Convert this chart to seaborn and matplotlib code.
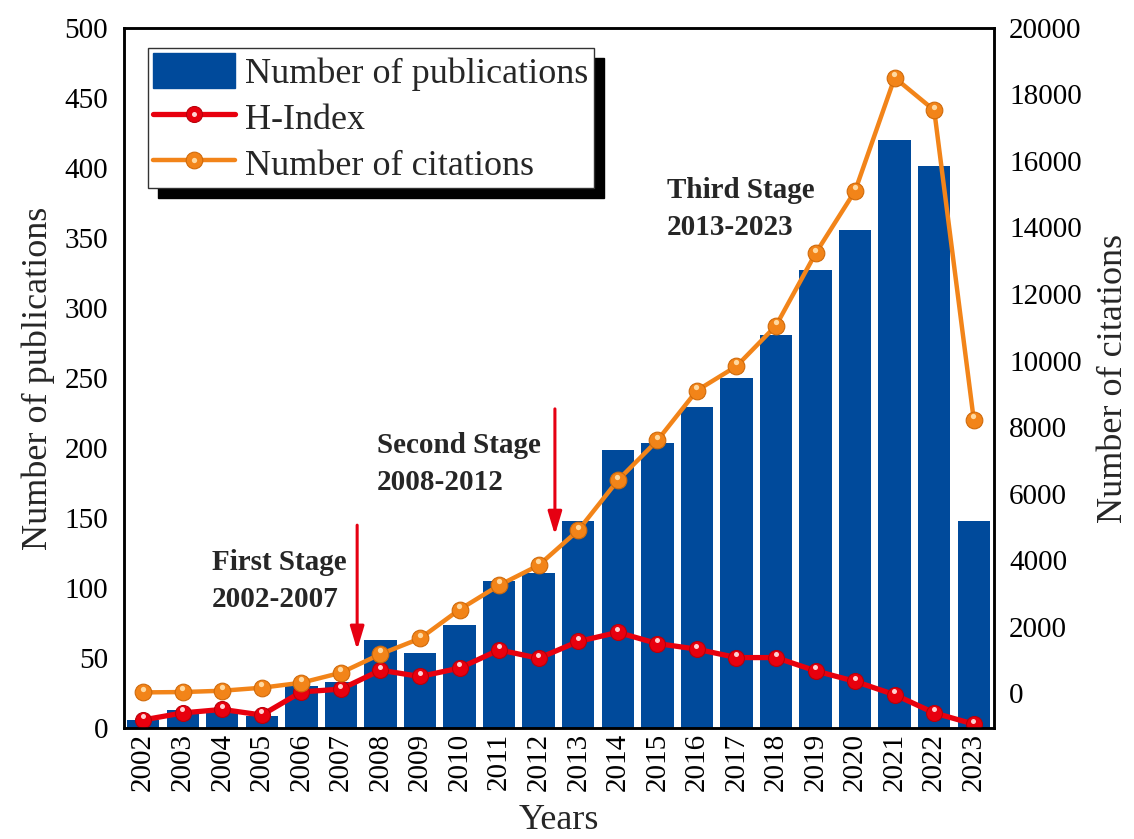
import numpy as np
import pandas as pd
import matplotlib
matplotlib.use('Agg')
import matplotlib.pyplot as plt
import matplotlib.transforms as mtransforms
from matplotlib.patches import Patch
from matplotlib.lines import Line2D
import seaborn as sns

# ---------------- data ----------------
years = ['2002', '2003', '2004', '2005', '2006', '2007', '2008', '2009', '2010', '2011', '2012',
         '2013', '2014', '2015', '2016', '2017', '2018', '2019', '2020', '2021', '2022', '2023']
publications = [6, 13, 12, 9, 30, 33, 63, 54, 74, 105, 111,
                148, 199, 204, 229, 250, 281, 327, 356, 420, 401, 148]
h_index = [6, 11, 13.5, 9.5, 26, 28, 41.5, 37, 43, 56, 50,
           62, 68.5, 60.5, 56.5, 50.5, 50.5, 41, 33.5, 24, 11, 3]
citations = [30, 40, 80, 170, 320, 620, 1180, 1650, 2520, 3250, 3850,
             4900, 6400, 7600, 9100, 9830, 11050, 13220, 15100, 18500, 17520, 8220]
left_ticks = [0, 50, 100, 150, 200, 250, 300, 350, 400, 450, 500]
right_ticks = [0, 2000, 4000, 6000, 8000, 10000, 12000, 14000, 16000, 18000, 20000]
legend_labels = ['Number of publications', 'H-Index', 'Number of citations']
stage_titles = ['First Stage', 'Second Stage', 'Third Stage']
stage_ranges = ['2002-2007', '2008-2012', '2013-2023']

BLUE = '#004a9b'
RED = '#e8000e'
RED_EDGE = '#b8000a'
RED_HL = '#ffd2d2'
ORANGE = '#f28419'
ORANGE_EDGE = '#d06a0a'
ORANGE_HL = '#ffd9a0'
ARROW_RED = '#e60012'

sns.set_style('white')
plt.rcParams['font.family'] = ['Liberation Serif', 'DejaVu Serif']

fig = plt.figure(figsize=(11.34, 8.39), dpi=100)
ax = fig.add_axes([0.1093, 0.1319, 0.7672, 0.8350])

x_idx = np.arange(len(years))
df = pd.DataFrame({'x': x_idx, 'pub': publications, 'h': h_index, 'cit': citations})

sns.barplot(data=df, x='x', y='pub', native_scale=True, width=0.82, color=BLUE,
            saturation=1, errorbar=None, linewidth=0, ax=ax, zorder=1)

sns.lineplot(data=df, x='x', y='h', ax=ax, color=RED, linewidth=3.8, marker='o',
             markersize=11.5, markerfacecolor=RED, markeredgecolor=RED_EDGE,
             markeredgewidth=0.8, zorder=3)
hl1 = mtransforms.offset_copy(ax.transData, fig=fig, x=-0.5, y=3.6, units='dots')
ax.plot(x_idx, h_index, ls='none', marker='o', ms=3.6, mfc=RED_HL, mec='none',
        transform=hl1, zorder=4)

ax.set_xlim(-0.486, 21.51)
ax.set_ylim(0, 500)
ax.set_yticks(left_ticks)
ax.set_xticks(x_idx)
ax.set_xticklabels(years, rotation=90)
ax.tick_params(axis='both', length=0, labelsize=21, colors='black')
ax.tick_params(axis='y', pad=11.5)
ax.tick_params(axis='x', pad=3.4)

# arrows and stage labels
ax.annotate('', xy=(5.41, 56), xytext=(5.41, 145),
            arrowprops=dict(arrowstyle='-|>,head_width=0.3,head_length=1.0', color=ARROW_RED,
                            lw=2.2, shrinkA=0, shrinkB=0, mutation_scale=14), zorder=5)
ax.annotate('', xy=(10.41, 138), xytext=(10.41, 228),
            arrowprops=dict(arrowstyle='-|>,head_width=0.3,head_length=1.0', color=ARROW_RED,
                            lw=2.2, shrinkA=0, shrinkB=0, mutation_scale=14), zorder=5)

stage_pos = [(1.73, 113, 86.8), (5.90, 196.3, 170), (13.24, 378.5, 352)]
for (sx, y1, y2), t, r in zip(stage_pos, stage_titles, stage_ranges):
    ax.text(sx, y1, t, fontsize=21, fontweight='bold', ha='left', va='baseline', zorder=6)
    ax.text(sx, y2, r, fontsize=21, fontweight='bold', ha='left', va='baseline', zorder=6)

ax.set_xlabel('Years', fontsize=26)
ax.xaxis.set_label_coords(0.5, -0.131)
ax.xaxis.label.set_va('center')
ax.set_ylabel('Number of publications', fontsize=26)
ax.yaxis.set_label_coords(-0.099, 0.5)
ax.yaxis.label.set_va('center')

# right axis
ax2 = ax.twinx()
sns.lineplot(data=df, x='x', y='cit', ax=ax2, color=ORANGE, linewidth=3.2, marker='o',
             markersize=12, markerfacecolor=ORANGE, markeredgecolor=ORANGE_EDGE,
             markeredgewidth=0.8, zorder=3)
hl2 = mtransforms.offset_copy(ax2.transData, fig=fig, x=-0.5, y=3.8, units='dots')
ax2.plot(x_idx, citations, ls='none', marker='o', ms=3.8, mfc=ORANGE_HL, mec='none',
         transform=hl2, zorder=4)
ax2.set_ylim(-1050, 20000)
ax2.set_yticks(right_ticks)
ax2.tick_params(axis='y', length=0, labelsize=21, pad=10.8, colors='black')
ax2.set_ylabel('Number of citations', fontsize=26)
ax2.yaxis.set_label_coords(1.137, 0.5)
ax2.yaxis.label.set_va('center')
ax2.set_xlim(-0.486, 21.51)

for a in (ax, ax2):
    for s in a.spines.values():
        s.set_color('black')
        s.set_linewidth(1.8)
        s.set_visible(True)

handles = [
    Patch(facecolor=BLUE, edgecolor=BLUE),
    (Line2D([], [], color=RED, lw=3.8, marker='o', ms=11.5, mfc=RED, mec=RED_EDGE, mew=0.8),
     Line2D([], [], ls='none', marker='o', ms=3.6, mfc=RED_HL, mec='none')),
    (Line2D([], [], color=ORANGE, lw=3.2, marker='o', ms=12, mfc=ORANGE, mec=ORANGE_EDGE, mew=0.8),
     Line2D([], [], ls='none', marker='o', ms=3.8, mfc=ORANGE_HL, mec='none')),
]
leg_kw = dict(loc='upper left', bbox_to_anchor=(0.0276, 0.9714), borderaxespad=0,
              fontsize=26, frameon=True, fancybox=False, framealpha=1, edgecolor='#333333',
              handlelength=2.25, handleheight=1.12, handletextpad=0.3, borderpad=0.15,
              labelspacing=0.22)
try:
    leg = ax2.legend(handles, legend_labels,
                     shadow={'ox': 7.2, 'oy': -7.2, 'facecolor': 'black',
                             'edgecolor': 'black', 'alpha': 1}, **leg_kw)
except Exception:
    leg = ax2.legend(handles, legend_labels, shadow=True, **leg_kw)
leg.get_frame().set_linewidth(1.0)
leg.set_zorder(10)

fig.savefig('out.png', dpi=100)
